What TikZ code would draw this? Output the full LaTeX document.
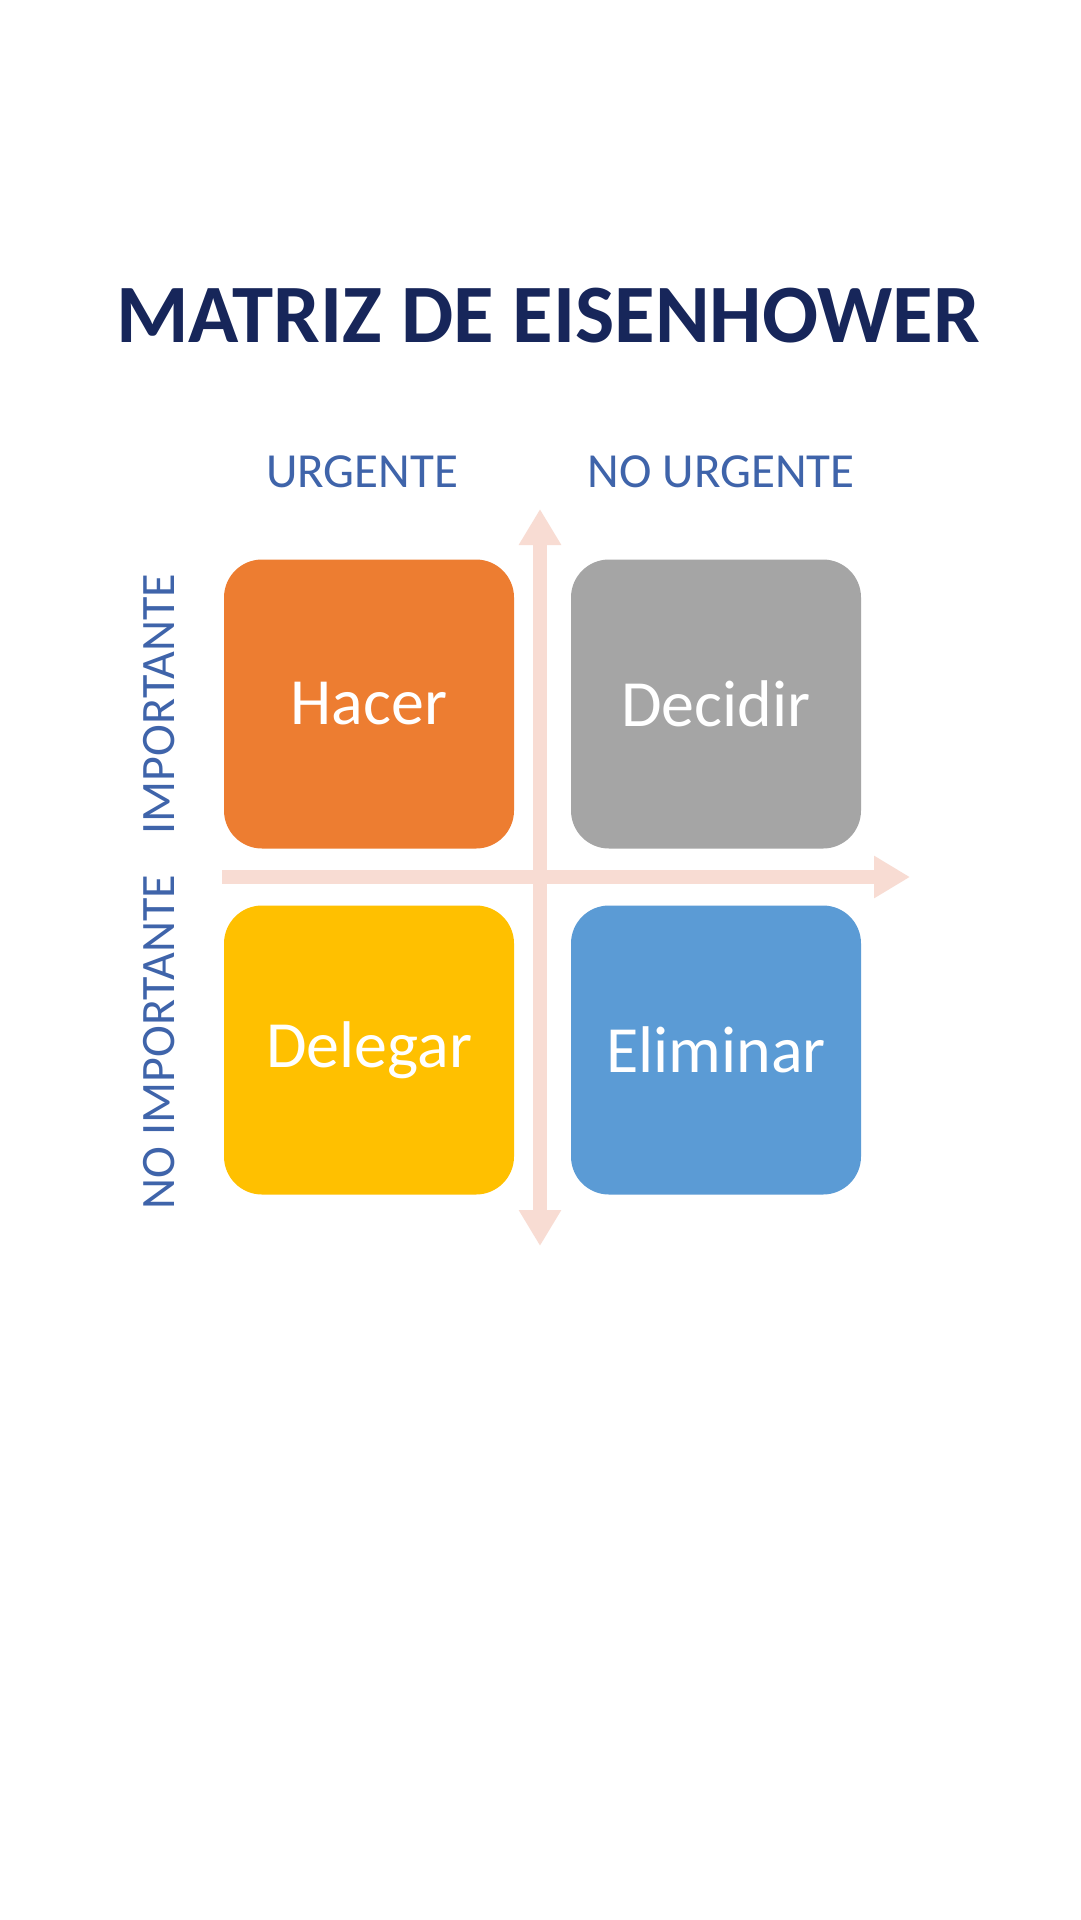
\documentclass[tikz,border=0pt]{standalone}
\usepackage{fontspec}
\setmainfont{Carlito}
\usetikzlibrary{arrows.meta}
\definecolor{titleblue}{HTML}{17265A}
\definecolor{headblue}{HTML}{3F64AA}
\definecolor{axispink}{HTML}{F8DCD3}
\definecolor{qorange}{HTML}{ED7D31}
\definecolor{qgray}{HTML}{A5A5A5}
\definecolor{qyellow}{HTML}{FFC000}
\definecolor{qblue}{HTML}{5B9BD5}
\tikzset{
  quad/.style={rounded corners=38pt, minimum width=290pt, minimum height=289pt, inner sep=0pt,
    text=white, font=\fontsize{66}{70}\selectfont},
  head/.style={text=headblue, font=\fontsize{48}{52}\selectfont, inner sep=0pt},
  axis/.style={draw=axispink, line width=14pt},
}
\begin{document}
\begin{tikzpicture}[x=1pt,y=-1pt]
\useasboundingbox (0,0) rectangle (1080,1920);
\fill[white] (0,0) rectangle (1080,1920);
\node[text=titleblue, font=\bfseries\fontsize{83}{92}\selectfont, inner sep=0pt] (title) at (548,316) {MATRIZ DE EISENHOWER};
\node[head, font=\fontsize{49}{52}\selectfont] (urg) at (362,472) {URGENTE};
\node[head, font=\fontsize{49}{52}\selectfont] (nourg) at (721,472) {NO URGENTE};
\node[head, rotate=90] (imp) at (159,704) {IMPORTANTE};
\node[head, rotate=90] (noimp) at (159,1042) {NO IMPORTANTE};
\coordinate (vtop) at (540,509);
\coordinate (vbot) at (540,1246);
\coordinate (hleft) at (222,877);
\coordinate (hright) at (910,877);
\draw[axis, {Triangle[width=40pt,length=36pt]}-{Triangle[width=40pt,length=36pt]}] (vtop) -- (vbot);
\draw[axis, -{Triangle[width=40pt,length=36pt]}] (hleft) -- (hright);
\node[quad, fill=qorange] (hacer) at (369,704) {Hacer};
\node[quad, fill=qgray] (decidir) at (716,704) {Decidir};
\node[quad, fill=qyellow] (delegar) at (369,1050) {Delegar};
\node[quad, fill=qblue] (eliminar) at (716,1050) {Eliminar};
\end{tikzpicture}
\end{document}
